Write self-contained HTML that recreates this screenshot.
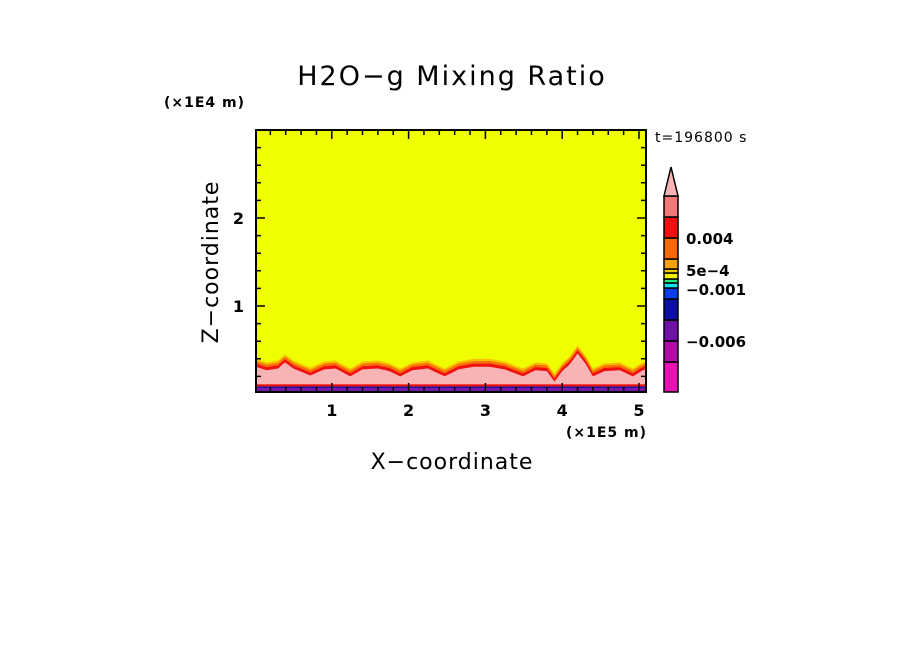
<!DOCTYPE html>
<html><head><meta charset="utf-8"><style>
body{margin:0;background:#fff}
svg{display:block;font-family:"DejaVu Sans","Liberation Sans",sans-serif}
</style></head><body>
<svg id="c" width="904" height="654" viewBox="0 0 904 654">
<text x="452" y="85" font-size="27" letter-spacing="2" text-anchor="middle">H2O−g Mixing Ratio</text>
<text x="164" y="107" font-size="14" letter-spacing="1" font-weight="bold">(×1E4 m)</text>
<text x="655" y="142" font-size="14" letter-spacing="1">t=196800 s</text>
<text x="566" y="437" font-size="14" letter-spacing="1" font-weight="bold">(×1E5 m)</text>
<text x="452" y="469" font-size="22" letter-spacing="1" text-anchor="middle">X−coordinate</text>
<text x="0" y="0" font-size="22" letter-spacing="1" text-anchor="middle" transform="translate(218,262) rotate(-90)">Z−coordinate</text>
<g id="plot"></g>
<g id="cbar"></g>
</svg>
<script>
const profileX=[0,0.15,0.3,0.39,0.5,0.72,0.9,1.05,1.24,1.4,1.6,1.75,1.89,2.05,2.25,2.47,2.65,2.85,3.05,3.25,3.49,3.65,3.8,3.9,4.0,4.1,4.2,4.3,4.4,4.55,4.75,4.92,5.05,5.1];
const profileH=[0.33,0.29,0.31,0.38,0.31,0.23,0.3,0.31,0.22,0.3,0.31,0.28,0.22,0.29,0.31,0.22,0.3,0.33,0.33,0.3,0.22,0.29,0.28,0.16,0.28,0.36,0.48,0.37,0.22,0.28,0.29,0.22,0.29,0.3];
const xTicks=[1,2,3,4,5];
const yTicks=[1,2];
const cbColors=["#e812b4","#b00ca8","#7012a8","#0c10a0","#0c3cf0","#10e0f0","#20e880","#f0f000","#f8c800","#f8a010","#f86808","#f01010","#f07878"];
const cbLabels=[{v:0.004,t:"0.004"},{v:0.0005,t:"5e-4"},{v:-0.001,t:"-0.001"},{v:-0.006,t:"-0.006"}];
const cbBounds=[-0.01,-0.008,-0.006,-0.004,-0.002,-0.0015,-0.001,-0.0005,0,0.0005,0.001,0.002,0.004,0.006];
const NS="http://www.w3.org/2000/svg";
const X0=256,X1=646,Y0=130,Y1=392;
const sx=v=>255+v*76.8, sy=v=>394-v*88;
function mk(t,a,p){const e=document.createElementNS(NS,t);for(const k in a)e.setAttribute(k,a[k]);p.appendChild(e);return e;}
const g=document.getElementById('plot');
let r=mk('rect',{x:X0,y:Y0,width:X1-X0,height:Y1-Y0,fill:'#f0ff00'},g);


function band(off,col,name){
  let d='M'+X0+','+Y1;
  profileX.forEach((x,i)=>{d+=' L'+Math.min(X1,Math.max(X0,sx(x)))+','+sy(profileH[i]+off);});
  d+=' L'+X1+','+Y1+' Z';
  const p=mk('path',{d:d,fill:col},g);
  
  
}
band(0.07,'#f8c000','band-light-orange');
band(0.045,'#f87008','band-orange');
band(0.015,'#f01010','band-red');
band(-0.02,'#f8b4b4','band-pink');
let b1=mk('rect',{x:X0,y:sy(0.11),width:X1-X0,height:sy(0.075)-sy(0.11),fill:'#f01010'},g);


let b2=mk('rect',{x:X0,y:sy(0.085),width:X1-X0,height:Y1-sy(0.085),fill:'#1018b0'},g);


let b3=mk('rect',{x:X0,y:sy(0.07),width:X1-X0,height:Y1-sy(0.07),fill:'#7818a8'},g);


let fr=mk('rect',{x:X0,y:Y0,width:X1-X0,height:Y1-Y0,fill:'none',stroke:'#000','stroke-width':2},g);


for(let i=1;i<=25;i++){const v=i*0.2;const x=sx(v);if(x>=X1)break;const L=(i%5==0)?9:5;
  let t=mk('path',{d:`M${x},${Y1} v${-L} M${x},${Y0} v${L}`,stroke:'#000','stroke-width':1.5},g);
  
  }
for(let i=1;i<=15;i++){const v=i*0.2;const y=sy(v);if(y<=Y0)break;const L=(i%5==0)?9:5;
  let t=mk('path',{d:`M${X0},${y} h${L} M${X1},${y} h${-L}`,stroke:'#000','stroke-width':1.5},g);
  
  }
xTicks.forEach(v=>{let t=mk('text',{x:sx(v),y:416,'font-size':16,'font-weight':'bold','text-anchor':'middle'},g);t.textContent=v;
  
  });
yTicks.forEach(v=>{let t=mk('text',{x:244,y:sy(v)+6,'font-size':16,'font-weight':'bold','text-anchor':'end'},g);t.textContent=v;
  
  });
const cb=document.getElementById('cbar');
const CX=664,CW=14,CT=196,CB=392;
const segs=[[362,392],[341,362],[320,341],[299,320],[288,299],[283,288],[279,283],[273,279],[269,273],[259,269],[238,259],[217,238],[196,217]];
cbColors.forEach((c,i)=>{const s=segs[i];let e=mk('rect',{x:CX,y:s[0],width:CW,height:s[1]-s[0],fill:c,stroke:'#000','stroke-width':1.5},cb);
  
  });
let tri=mk('path',{d:`M${CX},${CT} L${CX+CW/2},167 L${CX+CW},${CT} Z`,fill:'#f8b4b4',stroke:'#000','stroke-width':1.5},cb);


const labY={"0.004":238,"5e-4":270,"-0.001":289,"-0.006":341};
cbLabels.forEach(l=>{let t=mk('text',{x:686,y:labY[l.t]+6,'font-size':15,'font-weight':'bold'},cb);t.textContent=l.t.replace('-','−');
  
  });
</script>
</body></html>
